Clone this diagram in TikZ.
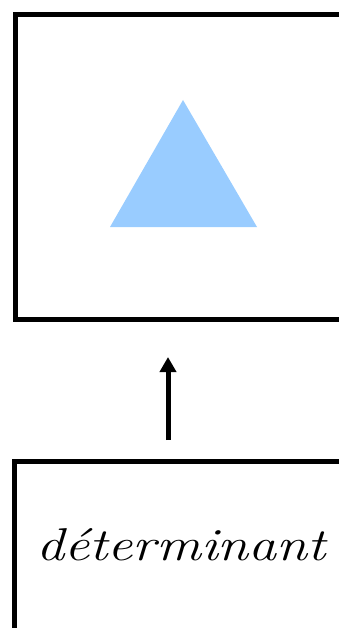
\documentclass[tikz,border=0pt]{standalone}
\usetikzlibrary{arrows.meta}
\definecolor{triblue}{HTML}{99CCFF}
\tikzset{
  frame/.style={draw=black, line width=5pt, fill=none},
  upar/.style={line width=5pt, -{Triangle[width=16pt,length=15pt]}},
  word/.style={font=\fontsize{46}{52}\selectfont\itshape, inner sep=0pt}
}
\begin{document}
\begin{tikzpicture}[x=1pt,y=-1pt]
\useasboundingbox (0,0) rectangle (339,628);
\clip (0,0) rectangle (339,628);
\draw[frame] (15,15) rectangle (360,319);
\node[inner sep=0pt] (topbox) at (187,167) {};
\fill[triblue] (110,227) -- (257,227) -- (183,100) -- cycle;
\draw[frame] (14,461) rectangle (360,660);
\node[word, anchor=base, xscale=1.22] (lbl) at (181,560) {déterminant};
\coordinate (a1) at (168,440);
\coordinate (a2) at (168,357);
\draw[upar] (a1) -- (a2);
\end{tikzpicture}
\end{document}
